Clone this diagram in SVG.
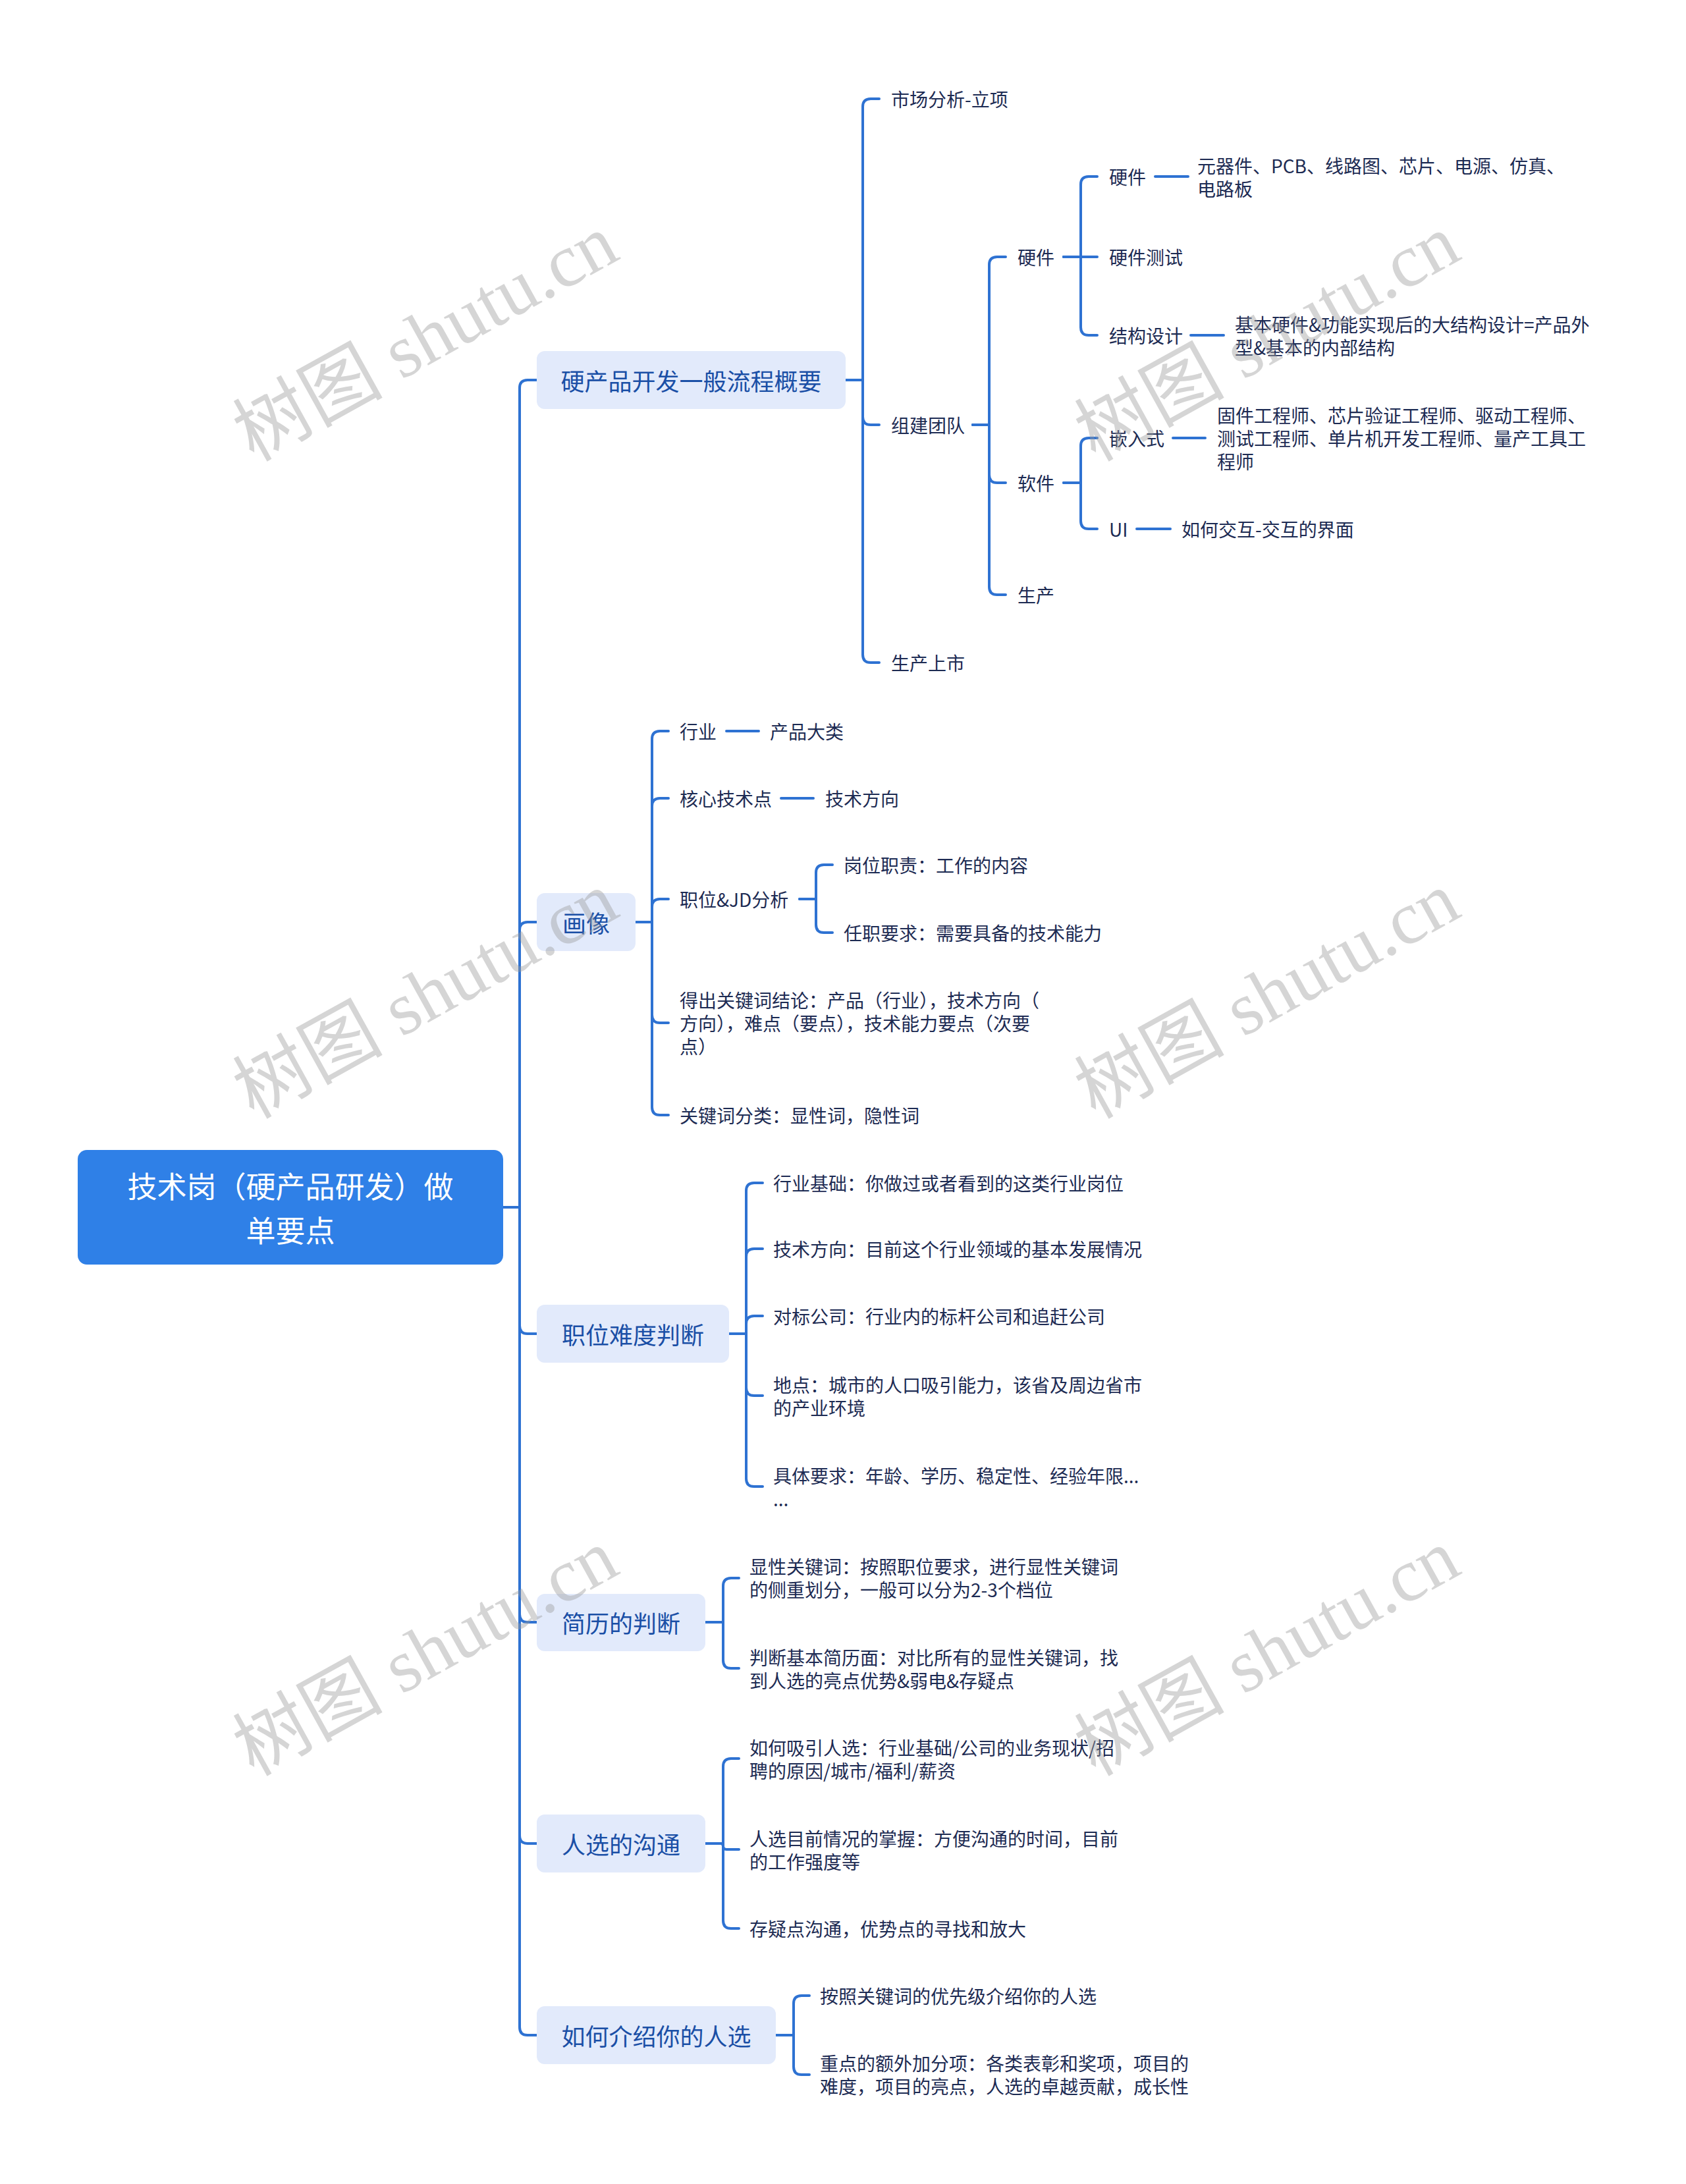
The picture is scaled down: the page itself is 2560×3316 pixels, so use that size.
<svg xmlns="http://www.w3.org/2000/svg" width="2560" height="3316" viewBox="0 0 2560 3316">
<style>
.bg{fill:#ffffff}
.root{fill:#2f80e7}
.rt{fill:#ffffff;font-family:"Noto Sans CJK SC","Noto Sans",sans-serif;font-size:45px;text-anchor:middle;dominant-baseline:central}
.l1{fill:#e2eafb}
.t1{fill:#1a4fa6;font-family:"Noto Sans CJK SC","Noto Sans",sans-serif;font-size:36px;text-anchor:middle;dominant-baseline:central}
.t{fill:#1d2b53;font-family:"Noto Sans CJK SC","Noto Sans",sans-serif;font-size:28px;dominant-baseline:central}
.c{fill:none;stroke:#2e72d2;stroke-width:4;stroke-linecap:round;stroke-linejoin:round}
.wm{fill:#9a9a9a;fill-opacity:0.42;font-family:"Liberation Serif","Noto Sans CJK SC",serif;font-size:114px;text-anchor:middle;dominant-baseline:central}
</style>
<rect class="bg" x="0" y="0" width="2560" height="3316"/>

<g id="connectors">
<path class="c" d="M764 1833 H789 V589 Q789 577 801 577 H815"/>
<path class="c" d="M764 1833 H789 V1412 Q789 1400 801 1400 H815"/>
<path class="c" d="M764 1833 H789 V2013 Q789 2025 801 2025 H815"/>
<path class="c" d="M764 1833 H789 V2451 Q789 2463 801 2463 H815"/>
<path class="c" d="M764 1833 H789 V2787 Q789 2799 801 2799 H815"/>
<path class="c" d="M764 1833 H789 V3078 Q789 3090 801 3090 H815"/>

<path class="c" d="M1284 577 H1310 V162 Q1310 150 1322 150 H1335"/>
<path class="c" d="M1284 577 H1310 V633 Q1310 645 1322 645 H1335"/>
<path class="c" d="M1284 577 H1310 V994 Q1310 1006 1322 1006 H1335"/>

<path class="c" d="M1477 645 H1502 V402 Q1502 390 1514 390 H1527"/>
<path class="c" d="M1477 645 H1502 V721 Q1502 733 1514 733 H1527"/>
<path class="c" d="M1477 645 H1502 V891 Q1502 903 1514 903 H1527"/>

<path class="c" d="M1615 390 H1641 V280 Q1641 268 1653 268 H1666"/>
<path class="c" d="M1615 390 H1666"/>
<path class="c" d="M1615 390 H1641 V497 Q1641 509 1653 509 H1666"/>
<path class="c" d="M1754 268 H1804"/>
<path class="c" d="M1808 509 H1858"/>

<path class="c" d="M1615 733 H1641 V677 Q1641 665 1653 665 H1666"/>
<path class="c" d="M1615 733 H1641 V791 Q1641 803 1653 803 H1666"/>
<path class="c" d="M1781 665 H1830"/>
<path class="c" d="M1726 803 H1777"/>

<path class="c" d="M965 1400 H990 V1122 Q990 1110 1002 1110 H1015"/>
<path class="c" d="M965 1400 H990 V1224 Q990 1212 1002 1212 H1015"/>
<path class="c" d="M965 1400 H990 V1377 Q990 1365 1002 1365 H1015"/>
<path class="c" d="M965 1400 H990 V1541 Q990 1553 1002 1553 H1015"/>
<path class="c" d="M965 1400 H990 V1681 Q990 1693 1002 1693 H1015"/>
<path class="c" d="M1103 1110 H1152"/>
<path class="c" d="M1186 1212 H1235"/>
<path class="c" d="M1214 1365 H1239 V1325 Q1239 1313 1251 1313 H1264"/>
<path class="c" d="M1214 1365 H1239 V1404 Q1239 1416 1251 1416 H1264"/>

<path class="c" d="M1107 2025 H1133 V1808 Q1133 1796 1145 1796 H1158"/>
<path class="c" d="M1107 2025 H1133 V1908 Q1133 1896 1145 1896 H1158"/>
<path class="c" d="M1107 2025 H1133 V2010 Q1133 1998 1145 1998 H1158"/>
<path class="c" d="M1107 2025 H1133 V2107 Q1133 2119 1145 2119 H1158"/>
<path class="c" d="M1107 2025 H1133 V2245 Q1133 2257 1145 2257 H1158"/>

<path class="c" d="M1071 2463 H1098 V2408 Q1098 2396 1110 2396 H1122"/>
<path class="c" d="M1071 2463 H1098 V2521 Q1098 2533 1110 2533 H1122"/>

<path class="c" d="M1071 2799 H1098 V2682 Q1098 2670 1110 2670 H1122"/>
<path class="c" d="M1071 2799 H1094 Q1098 2799 1098 2803 Q1098 2808 1103 2808 H1122"/>
<path class="c" d="M1071 2799 H1098 V2916 Q1098 2928 1110 2928 H1122"/>

<path class="c" d="M1178 3090 H1205 V3042 Q1205 3030 1217 3030 H1229"/>
<path class="c" d="M1178 3090 H1205 V3138 Q1205 3150 1217 3150 H1229"/>
</g>

<g id="root">
<rect class="root" x="118" y="1746" width="646" height="174" rx="14"/>
<text class="rt" x="441" y="1799">技术岗（硬产品研发）做</text>
<text class="rt" x="441" y="1866">单要点</text>
</g>

<g id="n1"><rect class="l1" x="815" y="533" width="469" height="88" rx="12"/><text class="t1" x="1049.5" y="577">硬产品开发一般流程概要</text></g>
<g id="n2"><rect class="l1" x="815" y="1356" width="150" height="88" rx="12"/><text class="t1" x="890" y="1400">画像</text></g>
<g id="n3"><rect class="l1" x="815" y="1981" width="292" height="88" rx="12"/><text class="t1" x="961" y="2025">职位难度判断</text></g>
<g id="n4"><rect class="l1" x="815" y="2420" width="256" height="87" rx="12"/><text class="t1" x="943" y="2463">简历的判断</text></g>
<g id="n5"><rect class="l1" x="815" y="2755" width="256" height="88" rx="12"/><text class="t1" x="943" y="2799">人选的沟通</text></g>
<g id="n6"><rect class="l1" x="815" y="3046" width="363" height="88" rx="12"/><text class="t1" x="996.5" y="3090">如何介绍你的人选</text></g>

<g id="n1-1"><text class="t" x="1353" y="150">市场分析-立项</text></g>
<g id="n1-2"><text class="t" x="1353" y="645">组建团队</text></g>
<g id="n1-3"><text class="t" x="1353" y="1006">生产上市</text></g>
<g id="n1-2-1"><text class="t" x="1545" y="390">硬件</text></g>
<g id="n1-2-2"><text class="t" x="1545" y="733">软件</text></g>
<g id="n1-2-3"><text class="t" x="1545" y="903">生产</text></g>
<g id="n1-2-1-1"><text class="t" x="1684" y="268">硬件</text></g>
<g id="n1-2-1-1-1"><text class="t" x="1818" y="251">元器件、PCB、线路图、芯片、电源、仿真、</text><text class="t" x="1818" y="286">电路板</text></g>
<g id="n1-2-1-2"><text class="t" x="1684" y="390">硬件测试</text></g>
<g id="n1-2-1-3"><text class="t" x="1684" y="509">结构设计</text></g>
<g id="n1-2-1-3-1"><text class="t" x="1875" y="492">基本硬件&amp;功能实现后的大结构设计=产品外</text><text class="t" x="1875" y="527">型&amp;基本的内部结构</text></g>
<g id="n1-2-2-1"><text class="t" x="1684" y="665">嵌入式</text></g>
<g id="n1-2-2-1-1"><text class="t" x="1848" y="630">固件工程师、芯片验证工程师、驱动工程师、</text><text class="t" x="1848" y="665">测试工程师、单片机开发工程师、量产工具工</text><text class="t" x="1848" y="700">程师</text></g>
<g id="n1-2-2-2"><text class="t" x="1684" y="803">UI</text></g>
<g id="n1-2-2-2-1"><text class="t" x="1794" y="803">如何交互-交互的界面</text></g>

<g id="n2-1"><text class="t" x="1032" y="1110">行业</text></g>
<g id="n2-1-1"><text class="t" x="1169" y="1110">产品大类</text></g>
<g id="n2-2"><text class="t" x="1032" y="1212">核心技术点</text></g>
<g id="n2-2-1"><text class="t" x="1253" y="1212">技术方向</text></g>
<g id="n2-3"><text class="t" x="1032" y="1365">职位&amp;JD分析</text></g>
<g id="n2-3-1"><text class="t" x="1281" y="1313">岗位职责：工作的内容</text></g>
<g id="n2-3-2"><text class="t" x="1281" y="1416">任职要求：需要具备的技术能力</text></g>
<g id="n2-4"><text class="t" x="1032" y="1518">得出关键词结论：产品（行业），技术方向（</text><text class="t" x="1032" y="1553">方向），难点（要点），技术能力要点（次要</text><text class="t" x="1032" y="1588">点）</text></g>
<g id="n2-5"><text class="t" x="1032" y="1693">关键词分类：显性词，隐性词</text></g>

<g id="n3-1"><text class="t" x="1174" y="1796">行业基础：你做过或者看到的这类行业岗位</text></g>
<g id="n3-2"><text class="t" x="1174" y="1896">技术方向：目前这个行业领域的基本发展情况</text></g>
<g id="n3-3"><text class="t" x="1174" y="1998">对标公司：行业内的标杆公司和追赶公司</text></g>
<g id="n3-4"><text class="t" x="1174" y="2102">地点：城市的人口吸引能力，该省及周边省市</text><text class="t" x="1174" y="2137">的产业环境</text></g>
<g id="n3-5"><text class="t" x="1174" y="2240">具体要求：年龄、学历、稳定性、经验年限...</text><text class="t" x="1174" y="2275">...</text></g>

<g id="n4-1"><text class="t" x="1138" y="2378">显性关键词：按照职位要求，进行显性关键词</text><text class="t" x="1138" y="2413">的侧重划分，一般可以分为2-3个档位</text></g>
<g id="n4-2"><text class="t" x="1138" y="2516">判断基本简历面：对比所有的显性关键词，找</text><text class="t" x="1138" y="2551">到人选的亮点优势&amp;弱电&amp;存疑点</text></g>

<g id="n5-1"><text class="t" x="1138" y="2653">如何吸引人选：行业基础/公司的业务现状/招</text><text class="t" x="1138" y="2688">聘的原因/城市/福利/薪资</text></g>
<g id="n5-2"><text class="t" x="1138" y="2791">人选目前情况的掌握：方便沟通的时间，目前</text><text class="t" x="1138" y="2826">的工作强度等</text></g>
<g id="n5-3"><text class="t" x="1138" y="2928">存疑点沟通，优势点的寻找和放大</text></g>

<g id="n6-1"><text class="t" x="1245" y="3030">按照关键词的优先级介绍你的人选</text></g>
<g id="n6-2"><text class="t" x="1245" y="3132">重点的额外加分项：各类表彰和奖项，项目的</text><text class="t" x="1245" y="3167">难度，项目的亮点，人选的卓越贡献，成长性</text></g>

<g id="watermarks">
<text class="wm" transform="translate(646 513) rotate(-29)">树图 shutu.cn</text>
<text class="wm" transform="translate(1924 513) rotate(-29)">树图 shutu.cn</text>
<text class="wm" transform="translate(646 1511) rotate(-29)">树图 shutu.cn</text>
<text class="wm" transform="translate(1924 1511) rotate(-29)">树图 shutu.cn</text>
<text class="wm" transform="translate(646 2509) rotate(-29)">树图 shutu.cn</text>
<text class="wm" transform="translate(1924 2509) rotate(-29)">树图 shutu.cn</text>
</g>
</svg>
